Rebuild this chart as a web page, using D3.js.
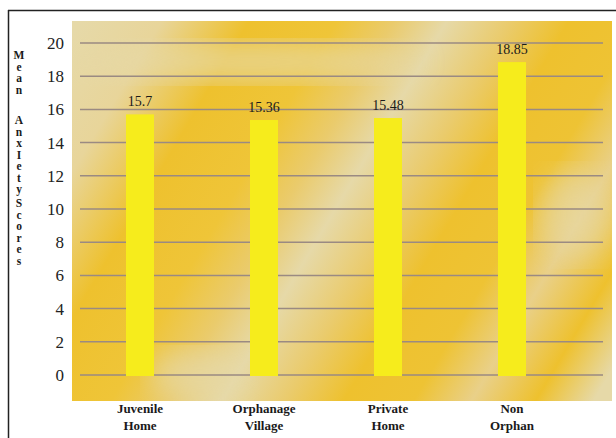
<!DOCTYPE html>
<html>
<head>
<meta charset="utf-8">
<script src="https://cdn.jsdelivr.net/npm/d3@7"></script>
<style>
  body { margin: 0; background: #fff; }
  svg { display: block; }
</style>
</head>
<body>
<script>
// ---------------------------------------------- data ----------------------------------------------
var categories = [["Juvenile", "Home"], ["Orphanage", "Village"], ["Private", "Home"], ["Non", "Orphan"]];
var scores = [15.7, 15.36, 15.48, 18.85];
var scoreLabels = ["15.7", "15.36", "15.48", "18.85"];
var yTicks = [0, 2, 4, 6, 8, 10, 12, 14, 16, 18, 20];
var titleWords = ["Mean", "AnxIety", "Scores"];

// ---------------------------------------------- layout ----------------------------------------------
var width = 616,
    height = 438,
    serif = "'Liberation Serif', 'Times New Roman', serif",
    barWidth = 28;

var svg = d3.select("body").append("svg")
    .attr("width", width)
    .attr("height", height);

var x = d3.scalePoint()
    .domain(d3.range(categories.length))
    .range([78, 574])
    .padding(0.5);

var y = d3.scaleLinear()
    .domain([0, 20])
    .range([375, 43]);

// background texture: diagonal gold / cream bands
var defs = svg.append("defs");
var grad = defs.append("linearGradient")
    .attr("id", "bg")
    .attr("gradientUnits", "userSpaceOnUse")
    .attr("x1", 0).attr("y1", 0)
    .attr("x2", 645).attr("y2", 383);
var gold = "#eec12e", cream = "#e6d9a8", mid = "#eacb6c";
[[0, cream], [80, cream], [150, "#e8d59a"], [225, gold], [300, "#efc538"], [350, mid],
 [395, cream], [450, mid], [500, gold], [560, "#eec334"], [610, "#e9d089"], [665, gold], [715, cream], [750, cream]]
    .forEach(function (s) {
        grad.append("stop").attr("offset", s[0] / 750).attr("stop-color", s[1]);
    });

svg.append("rect")
    .attr("x", 72).attr("y", 21)
    .attr("width", 540).attr("height", 380)
    .attr("fill", "url(#bg)");

// soft light patches like the reference texture
defs.append("filter").attr("id", "blur")
    .append("feGaussianBlur").attr("stdDeviation", 14);
var clip = defs.append("clipPath").attr("id", "plotclip");
clip.append("rect").attr("x", 72).attr("y", 21).attr("width", 540).attr("height", 380);
var patches = svg.append("g").attr("clip-path", "url(#plotclip)");
patches.append("ellipse")
    .attr("cx", 250).attr("cy", 62).attr("rx", 170).attr("ry", 20)
    .attr("fill", cream).attr("opacity", 0.7).attr("filter", "url(#blur)");
patches.append("ellipse")
    .attr("cx", 575).attr("cy", 215).attr("rx", 35).attr("ry", 45)
    .attr("fill", cream).attr("opacity", 0.6).attr("filter", "url(#blur)");
patches.append("ellipse")
    .attr("cx", 200).attr("cy", 375).attr("rx", 50).attr("ry", 25)
    .attr("fill", cream).attr("opacity", 0.7).attr("filter", "url(#blur)");

// frame lines
svg.append("line")
    .attr("x1", 8.5).attr("x2", 8.5).attr("y1", 10).attr("y2", height)
    .attr("stroke", "#222").attr("stroke-width", 1.5);
svg.append("line")
    .attr("x1", 8).attr("x2", width).attr("y1", 10.5).attr("y2", 10.5)
    .attr("stroke", "#222").attr("stroke-width", 1.5);

// gridlines
svg.append("g").selectAll("line")
    .data(yTicks)
    .enter()
    .append("line")
    .attr("x1", 80).attr("x2", 603)
    .attr("y1", function (d) { return y(d); })
    .attr("y2", function (d) { return y(d); })
    .attr("stroke", "#9a8a82")
    .attr("stroke-width", 1.5);

// y tick labels
svg.append("g").selectAll("text")
    .data(yTicks)
    .enter()
    .append("text")
    .attr("x", 64)
    .attr("y", function (d) { return y(d); })
    .attr("dy", "0.35em")
    .attr("text-anchor", "end")
    .attr("font-family", serif)
    .attr("font-size", "17px")
    .attr("fill", "#222")
    .text(function (d) { return d; });

// bars
svg.append("g").selectAll("rect")
    .data(scores)
    .enter()
    .append("rect")
    .attr("x", function (d, i) { return x(i) - barWidth / 2; })
    .attr("y", function (d) { return y(d); })
    .attr("width", barWidth)
    .attr("height", function (d) { return y(0) - y(d) + 1; })
    .attr("fill", "#f6ec1c");

// value labels
svg.append("g").selectAll("text")
    .data(scores)
    .enter()
    .append("text")
    .attr("x", function (d, i) { return x(i); })
    .attr("y", function (d) { return y(d) - 8; })
    .attr("text-anchor", "middle")
    .attr("font-family", serif)
    .attr("font-size", "14px")
    .attr("fill", "#1a1a1a")
    .text(function (d, i) { return scoreLabels[i]; });

// category labels
var cat = svg.append("g").selectAll("text")
    .data(categories)
    .enter()
    .append("text")
    .attr("text-anchor", "middle")
    .attr("font-family", serif)
    .attr("font-weight", "bold")
    .attr("font-size", "13px")
    .attr("fill", "#1a1a1a");
cat.selectAll("tspan")
    .data(function (d, i) { return d.map(function (t, k) { return { t: t, k: k, i: i }; }); })
    .enter()
    .append("tspan")
    .attr("x", function (d) { return x(d.i); })
    .attr("y", function (d) { return 413 + d.k * 17; })
    .text(function (d) { return d.t; });

// stacked y-axis title, one letter per line
var wordTop = [55, 120, 203],
    letterStep = 11.5;
var title = svg.append("g")
    .attr("font-family", serif)
    .attr("font-weight", "bold")
    .attr("font-size", "11.5px")
    .attr("fill", "#1a1a1a");
titleWords.forEach(function (w, wi) {
    w.split("").forEach(function (ch, ci) {
        title.append("text")
            .attr("x", 19)
            .attr("y", wordTop[wi] + ci * letterStep + 4)
            .attr("text-anchor", "middle")
            .text(ch);
    });
});
</script>
</body>
</html>
